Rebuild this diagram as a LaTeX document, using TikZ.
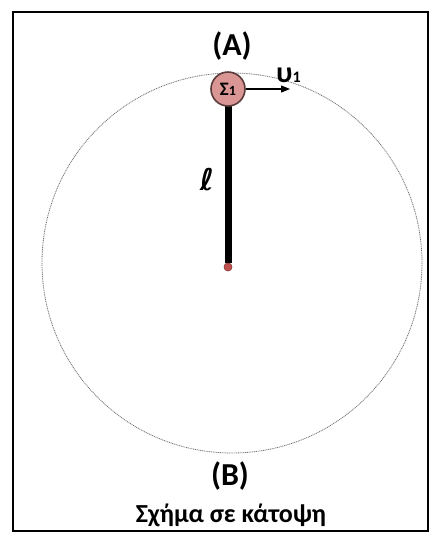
\documentclass[tikz,border=0pt]{standalone}
\usepackage{fontspec}
\setmainfont{Carlito}
\newfontfamily\ellfont{DejaVu Sans}
\usetikzlibrary{arrows.meta}
\definecolor{ballfill}{RGB}{217,150,148}
\definecolor{ballline}{RGB}{90,60,60}
\definecolor{pivotc}{RGB}{192,80,77}
\tikzset{
  frame/.style={draw=black,line width=2pt},
  orbit/.style={draw=black!55,line width=0.8pt,dash pattern=on 1pt off 0.8pt},
  rod/.style={draw=black,line width=7pt},
  ball/.style={circle,fill=ballfill,draw=ballline,line width=1.6pt,minimum size=34pt,inner sep=0pt,font=\bfseries\fontsize{19}{19}\selectfont},
  pivot/.style={circle,fill=pivotc,draw=pivotc!70!black,line width=0.4pt,minimum size=8pt,inner sep=0pt},
  lbl/.style={font=\bfseries\fontsize{32}{32}\selectfont,inner sep=0pt},
  vel/.style={draw=black,line width=1.2pt,-{Triangle[length=9pt,width=7pt]}}
}
\begin{document}
\begin{tikzpicture}[x=1pt,y=-1pt]
\useasboundingbox (0,0) rectangle (430,539);
\fill[white] (0,0) rectangle (430,539);
\draw[frame] (13,12) rectangle (428,531);
\draw[orbit] (232,263) circle[radius=190];
\node[pivot] (o) at (228,267) {};
\coordinate (rodtop) at (228,89);
\draw[rod] (rodtop) -- (o.north);
\node[pivot] (o2) at (228,267) {};
\node[ball] (s) at (228,89) {Σ\raisebox{0pt}{\fontsize{14}{14}\selectfont 1}};
\coordinate (vtip) at (290,89);
\draw[vel] (s.east) -- (vtip);
\node[lbl] (A) at (232,46) {(A)};
\node[lbl] (B) at (230,476) {(B)};
\node[font=\bfseries\fontsize{30}{30}\selectfont,inner sep=0pt,anchor=base west] (v) at (276,82) {υ{\fontsize{16}{16}\selectfont 1}};
\node[font=\ellfont\bfseries\fontsize{30}{30}\selectfont,inner sep=0pt] (l) at (207,180) {ℓ};
\node[font=\bfseries\fontsize{26}{26}\selectfont,inner sep=0pt] (cap) at (231,515) {Σχήμα σε κάτοψη};
\end{tikzpicture}
\end{document}
